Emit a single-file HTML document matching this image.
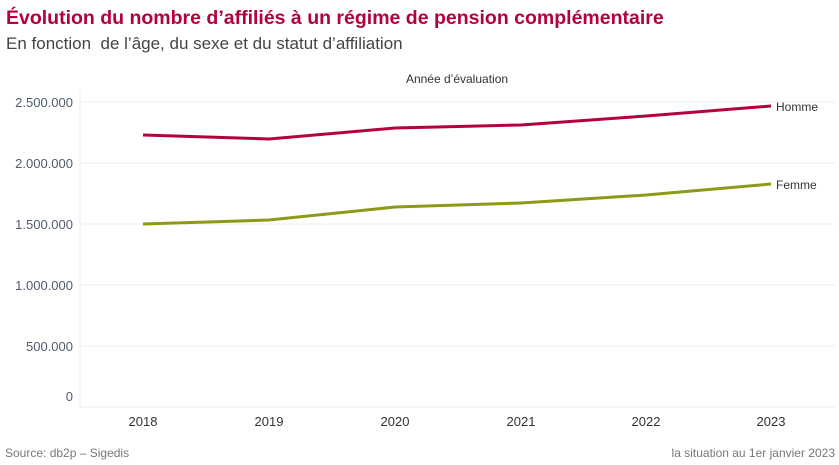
<!DOCTYPE html>
<html><head><meta charset="utf-8"><style>
body{margin:0;width:839px;height:465px;background:#fff;font-family:"Liberation Sans","DejaVu Sans",sans-serif;overflow:hidden;position:relative}
.t{position:absolute;white-space:pre}
</style></head><body>
<div class="t" style="left:6px;top:7px;font-size:19.5px;font-weight:bold;color:#b5003f">Évolution du nombre d’affiliés à un régime de pension complémentaire</div>
<div class="t" style="left:6px;top:34px;font-size:17px;color:#444">En fonction  de l’âge, du sexe et du statut d’affiliation</div>
<svg width="839" height="465" style="position:absolute;left:0;top:0" font-family="Liberation Sans, sans-serif">
<text x="457" y="83" font-size="12" fill="#333" text-anchor="middle">Année d’évaluation</text>
<g stroke="#eeeeee" stroke-width="1">
<line x1="80" y1="102" x2="835" y2="102"/><line x1="80" y1="163" x2="835" y2="163"/>
<line x1="80" y1="224" x2="835" y2="224"/><line x1="80" y1="285" x2="835" y2="285"/>
<line x1="80" y1="346" x2="835" y2="346"/><line x1="80" y1="407" x2="835" y2="407"/>
<line x1="80" y1="90" x2="80" y2="407"/>
</g>
<g font-size="13" fill="#4f5b6b" text-anchor="end">
<text x="73" y="107">2.500.000</text><text x="73" y="168">2.000.000</text>
<text x="73" y="229">1.500.000</text><text x="73" y="290">1.000.000</text>
<text x="73" y="351">500.000</text><text x="73" y="401">0</text>
</g>
<g font-size="13" fill="#333" text-anchor="middle">
<text x="143" y="426">2018</text><text x="269" y="426">2019</text><text x="395" y="426">2020</text>
<text x="521" y="426">2021</text><text x="646" y="426">2022</text><text x="771" y="426">2023</text>
</g>
<polyline fill="none" stroke="#b5003f" stroke-width="3" points="143,135 269,139 395,128 521,125 646,116 771,106"/>
<polyline fill="none" stroke="#8c9a16" stroke-width="3" points="143,224 269,220 395,207 521,203 646,195 771,184"/>
<text x="776" y="111" font-size="12" fill="#333">Homme</text>
<text x="776" y="189" font-size="12" fill="#333">Femme</text>
<text x="5" y="457" font-size="12" fill="#777">Source: db2p – Sigedis</text>
<text x="835" y="457" font-size="12" fill="#777" text-anchor="end">la situation au 1er janvier 2023</text>
</svg>
</body></html>
